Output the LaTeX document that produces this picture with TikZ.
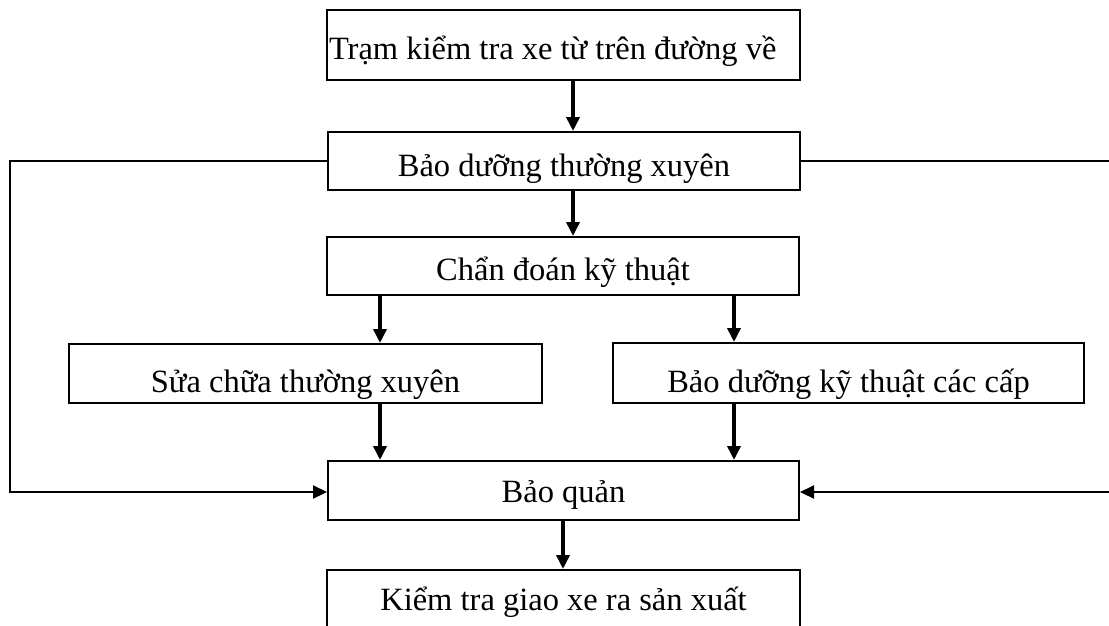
\documentclass[tikz,border=0pt]{standalone}
\usepackage{fontspec}
\setmainfont{Liberation Serif}
\usetikzlibrary{arrows.meta,calc}
\begin{document}
\begin{tikzpicture}[x=1pt,y=-1pt,
  box/.style={draw,line width=2pt,minimum height=58pt,inner sep=0pt,text depth=0pt,text height=31pt,font=\fontsize{32.5}{39}\selectfont},
  arr/.style={line width=3.5pt,-{Triangle[length=14pt,width=13pt]}},
  side/.style={line width=2.2pt},
  sidearr/.style={line width=2.2pt,-{Triangle[length=14pt,width=13pt]}}]
\useasboundingbox (0,0) rectangle (1109,625);
\node[box,minimum height=70pt,text height=29pt,text width=469pt,align=flush left,inner xsep=2pt] (A) at (563.5,45) {Trạm kiểm tra xe từ trên đường về};
\node[box,minimum width=472pt] (B) at (564,161) {Bảo dưỡng thường xuyên};
\node[box,minimum width=472pt,text height=28pt] (C) at (563,266) {Chẩn đoán kỹ thuật};
\node[box,minimum width=473pt,minimum height=59pt,text height=37pt] (D) at (305.5,373.5) {Sửa chữa thường xuyên};
\node[box,minimum width=471pt,minimum height=60pt,text height=38pt] (E) at (848.5,373) {Bảo dưỡng kỹ thuật các cấp};
\node[box,minimum width=471pt,minimum height=59pt,text height=23pt] (F) at (563.5,490.5) {Bảo quản};
\node[box,minimum width=473pt,minimum height=60pt,text height=20pt] (G) at (563.5,600) {Kiểm tra giao xe ra sản xuất};
% x positions of arrows
\coordinate (xa) at (573,0);
\coordinate (xl) at (380,0);
\coordinate (xr) at (734,0);
\coordinate (xg) at (563,0);
\draw[arr] (A.south -| xa) -- (B.north -| xa);
\draw[arr] (B.south -| xa) -- (C.north -| xa);
\draw[arr] (C.south -| xl) -- (D.north -| xl);
\draw[arr] (C.south -| xr) -- (E.north -| xr);
\draw[arr] (D.south -| xl) -- (F.north -| xl);
\draw[arr] (E.south -| xr) -- (F.north -| xr);
\draw[arr] (F.south -| xg) -- (G.north -| xg);
% side connections
\coordinate (lb) at (10,492);
\coordinate (rt) at (1109,161);
\coordinate (rb) at (1109,492);
\draw[sidearr] (B.west) -| (lb) -- (F.west |- lb);
\draw[side] (B.east) -- (rt);
\draw[sidearr] (rb) -- (F.east |- rb);
\end{tikzpicture}
\end{document}
